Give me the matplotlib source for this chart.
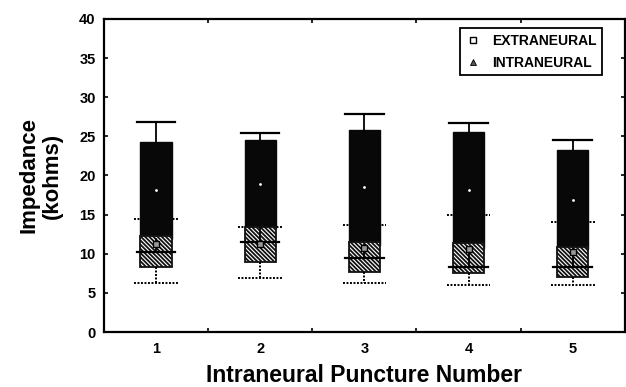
import matplotlib
matplotlib.use("Agg")
import matplotlib.pyplot as plt
import numpy as np
from matplotlib.lines import Line2D

plt.rcParams["font.family"] = ["Liberation Sans", "DejaVu Sans"]
plt.rcParams["font.weight"] = "bold"
plt.rcParams["hatch.linewidth"] = 1.3

# Puncture number categories
punctures = [1, 2, 3, 4, 5]

# Intraneural (black boxes, solid whiskers)
intra_mean = [18.1, 18.9, 18.5, 18.15, 16.9]
intra_box_top = [24.3, 24.5, 25.85, 25.55, 23.25]
intra_cap_top = [26.8, 25.4, 27.9, 26.7, 24.5]
intra_cap_bottom = [10.2, 11.5, 9.45, 8.25, 8.25]

# Extraneural (hatched boxes, dotted whiskers)
extra_mean = [11.2, 11.2, 10.7, 10.6, 10.2]
extra_box_top = [12.3, 13.4, 11.45, 11.35, 10.9]
extra_box_bottom = [8.25, 9.0, 7.65, 7.6, 7.0]
extra_cap_top = [14.5, 13.4, 13.7, 14.9, 14.1]
extra_cap_bottom = [6.3, 6.9, 6.3, 6.0, 6.0]

BOX_W = 0.30
CAP_W = 0.37
DOT_CAP_W = 0.42
DOTTED = (0, (1, 0.8))

fig = plt.figure(figsize=(6.26, 3.87), dpi=100)
ax = fig.add_axes([0.1661, 0.1421, 0.832, 0.809])

x = np.array(punctures, dtype=float)
for i, xc in enumerate(x):
    # extraneural upper dotted whisker (sits behind the black box)
    ax.plot([xc, xc], [extra_box_top[i], extra_cap_top[i]], color="black",
            lw=1.4, ls=DOTTED, zorder=1)
    ax.plot([xc - DOT_CAP_W / 2, xc + DOT_CAP_W / 2], [extra_cap_top[i]] * 2,
            color="black", lw=1.4, ls=DOTTED, zorder=1)

    # intraneural box (mean +/- same half-height)
    half = intra_box_top[i] - intra_mean[i]
    ax.bar(xc, 2 * half, bottom=intra_mean[i] - half, width=BOX_W,
           color="#080808", edgecolor="#080808", lw=1.0, zorder=2)

    # extraneural hatched box
    ax.bar(xc, extra_box_top[i] - extra_box_bottom[i], bottom=extra_box_bottom[i],
           width=BOX_W, facecolor="white", edgecolor="#111111",
           hatch="\\" * 8, lw=1.3, zorder=3)

    # extraneural lower dotted whisker
    ax.plot([xc, xc], [extra_box_bottom[i], extra_cap_bottom[i]], color="black",
            lw=1.4, ls=DOTTED, zorder=3.5)
    ax.plot([xc - DOT_CAP_W / 2, xc + DOT_CAP_W / 2], [extra_cap_bottom[i]] * 2,
            color="black", lw=1.4, ls=DOTTED, zorder=3.5)

    # intraneural solid whiskers
    ax.plot([xc, xc], [intra_box_top[i], intra_cap_top[i]], color="black",
            lw=1.3, zorder=4)
    ax.plot([xc - CAP_W / 2, xc + CAP_W / 2], [intra_cap_top[i]] * 2,
            color="black", lw=1.6, zorder=4)
    ax.plot([xc, xc], [intra_mean[i] - half, intra_cap_bottom[i]], color="black",
            lw=1.3, zorder=4)
    ax.plot([xc - CAP_W / 2, xc + CAP_W / 2], [intra_cap_bottom[i]] * 2,
            color="black", lw=1.6, zorder=4)

# means
ax.plot(x, extra_mean, ls="none", marker="s", ms=4.5, mfc="#9a9a9a",
        mec="black", mew=1.0, zorder=5)
ax.plot(x, intra_mean, ls="none", marker="o", ms=2.0, mfc="white",
        mec="white", mew=0, zorder=5)

ax.set_xlim(0.5, 5.5)
ax.set_ylim(0, 40)
ax.set_yticks(np.arange(0, 41, 5))
ax.set_xticks(punctures)
ax.set_xticks(np.arange(1.5, 5.0, 1.0), minor=True)
ax.tick_params(axis="x", which="major", length=0, pad=7, labelsize=10.5)
ax.tick_params(axis="x", which="minor", direction="in", length=3, width=1.2,
               top=True, bottom=True)
ax.tick_params(axis="y", which="major", direction="in", length=3, width=1.2,
               left=True, right=True, labelsize=10.5, pad=6)
for lab in ax.get_xticklabels() + ax.get_yticklabels():
    lab.set_fontweight("bold")
for s in ax.spines.values():
    s.set_linewidth(1.6)

ax.set_xlabel("Intraneural Puncture Number", fontsize=16.5, fontweight="bold",
              labelpad=6)
ax.set_ylabel("Impedance\n(kohms)", fontsize=16, fontweight="bold",
              labelpad=12, linespacing=1.1)

handles = [
    Line2D([0], [0], ls="none", marker="s", ms=4, mfc="white", mec="black", mew=1.0),
    Line2D([0], [0], ls="none", marker="^", ms=4, mfc="#555555", mec="black", mew=0.6),
]
leg = ax.legend(handles, ["EXTRANEURAL", "INTRANEURAL"], loc="upper right",
                bbox_to_anchor=(0.957, 0.97), fancybox=False, framealpha=1,
                edgecolor="black", prop={"weight": "bold", "size": 10},
                handletextpad=0.9, borderpad=0.4, labelspacing=0.55,
                handlelength=1.0, borderaxespad=0)
leg.get_frame().set_linewidth(1.3)

fig.savefig("out.png", dpi=100)
